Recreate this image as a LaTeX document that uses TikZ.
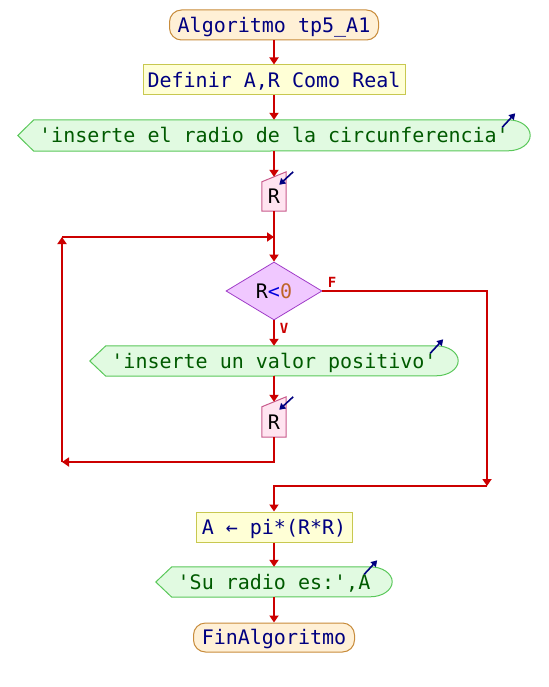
\documentclass[tikz,border=0pt]{standalone}
\usepackage{fontspec}
\setmonofont{DejaVu Sans Mono}
\usetikzlibrary{arrows.meta,shapes.geometric,backgrounds}
\definecolor{flowred}{RGB}{204,0,0}
\definecolor{navy}{RGB}{0,0,128}
\definecolor{termfill}{RGB}{255,240,214}
\definecolor{termline}{RGB}{200,140,60}
\definecolor{procfill}{RGB}{255,255,214}
\definecolor{procline}{RGB}{200,200,80}
\definecolor{outfill}{RGB}{225,250,225}
\definecolor{outedge}{RGB}{90,200,90}
\definecolor{outtext}{RGB}{0,90,0}
\definecolor{infill}{RGB}{255,228,240}
\definecolor{inedge}{RGB}{200,90,140}
\definecolor{decfill}{RGB}{240,200,255}
\definecolor{decedge}{RGB}{160,60,200}
\definecolor{ltblue}{RGB}{0,0,220}
\definecolor{numcol}{RGB}{190,100,40}
\tikzset{
  base/.style={inner sep=0pt, text height=14.6pt, text depth=0pt, font=\ttfamily\fontsize{20}{24}\selectfont},
  term/.style={base, draw=termline, fill=termfill, rounded corners=12pt, text=navy, line width=1pt},
  proc/.style={base, draw=procline, fill=procfill, text=navy, line width=1pt},
  outbox/.style={base, text=outtext},
  inbox/.style={base, text=black},
  dec/.style={base, shape=diamond, draw=decedge, fill=decfill, line width=0.8pt},
  flow/.style={draw=flowred, line width=2.2pt},
  arr/.style={flow, -{Triangle[width=9pt,length=7pt]}},
  iconarrow/.style={draw=navy, line width=1.6pt, -{Triangle[width=7pt,length=6pt]}},
  lbl/.style={text=flowred, font=\ttfamily\bfseries\fontsize{14}{14}\selectfont, inner sep=0pt},
}
\newcommand\outshape[2]{%
  \begin{pgfonlayer}{background}
    \path[fill=outfill, draw=outedge, line width=1pt] (#1.west) -- ([xshift=16pt]#1.north west)
      -- ([xshift=-22pt]#1.north east) arc[start angle=90, end angle=-90, x radius=22pt, y radius=#2]
      -- ([xshift=16pt]#1.south west) -- cycle;
  \end{pgfonlayer}
  \draw[iconarrow] ([xshift=-28pt,yshift=-7.5pt]#1.north east) -- ([xshift=-15pt,yshift=6.5pt]#1.north east);
}
\newcommand\inshape[1]{%
  \begin{pgfonlayer}{background}
    \path[fill=infill, draw=inedge, line width=1pt] (#1.south west) -- (#1.north west)
      -- ([yshift=10pt]#1.north east) -- (#1.south east) -- cycle;
  \end{pgfonlayer}
  \draw[iconarrow] ([xshift=7pt,yshift=10pt]#1.north east) -- ([xshift=-7pt,yshift=-3pt]#1.north east);
}
\begin{document}
\begin{tikzpicture}[x=1pt,y=1pt]
\useasboundingbox (0,0) rectangle (548,-687);
\begin{pgfonlayer}{background}
\fill[white] (0,0) rectangle (548,-687);
\end{pgfonlayer}
% nodes
\node[term, minimum width=209pt, minimum height=30pt] (start) at (274,-25) {Algoritmo tp5\_A1};
\node[proc, minimum width=262pt, minimum height=30pt] (def) at (274,-80) {Definir A,R Como Real};
\node[outbox, minimum width=512pt, minimum height=31pt] (out1) at (274,-135.5) {'inserte el radio de la circunferencia'};
\outshape{out1}{15.5pt}
\node[inbox, minimum width=24pt, minimum height=29pt] (in1) at (274,-196.5) {R};
\inshape{in1}
\node[dec, minimum width=96pt, minimum height=58pt] (dia) at (274,-291) {R\textcolor{ltblue}{<}\textcolor{numcol}{0}};
\node[outbox, minimum width=368pt, minimum height=30pt] (out2) at (274,-361) {'inserte un valor positivo'};
\outshape{out2}{15pt}
\node[inbox, minimum width=24pt, minimum height=30pt] (in2) at (274,-422) {R};
\inshape{in2}
\node[proc, minimum width=156pt, minimum height=30pt] (assign) at (274,-527) {A ← pi*(R*R)};
\node[outbox, minimum width=236pt, minimum height=30pt] (out3) at (274,-582) {'Su radio es:',A};
\outshape{out3}{15pt}
\node[term, minimum width=161pt, minimum height=29pt] (end) at (274,-637.5) {FinAlgoritmo};
% labels
\node[lbl] (lf) at (332,-282) {F};
\node[lbl] (lv) at (284,-328.5) {V};
% junction coordinates
\coordinate (j1) at (274,-237);
\coordinate (c1) at (274,-462);
\coordinate (c2) at (62,-462);
\coordinate (c3) at (62,-237);
\coordinate (f1) at (487,-291);
\coordinate (f2) at (487,-486);
\coordinate (f3) at (274,-486);
% connectors
\draw[arr] (start.south) -- (def.north);
\draw[arr] (def.south) -- (out1.north);
\draw[arr] (out1.south) -- ([yshift=5pt]in1.north);
\draw[arr] (in1.south) -- (j1) -- (dia.north);
\draw[arr] (dia.south) -- (out2.north);
\draw[arr] (out2.south) -- ([yshift=5pt]in2.north);
\draw[arr] (in2.south) -- (c1) -- (c2);
\draw[arr] (c2) -- (c3);
\draw[arr] (c3) -- (j1);
\draw[arr] (dia.east) -- (f1) -- (f2);
\draw[arr] (f2) -- (f3) -- (assign.north);
\draw[arr] (assign.south) -- (out3.north);
\draw[arr] (out3.south) -- (end.north);
\end{tikzpicture}
\end{document}
